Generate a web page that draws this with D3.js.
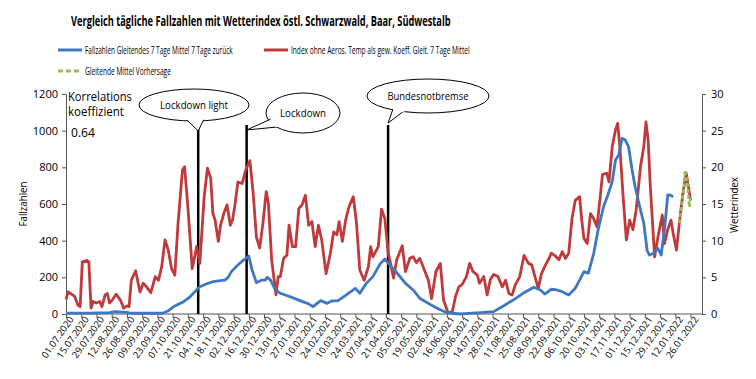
<!DOCTYPE html>
<html><head>
<meta charset="utf-8">
<title>Fallzahlen vs Wetterindex</title>
<script src="https://d3js.org/d3.v7.min.js"></script>
<style>
  body { margin: 0; background: #fff; }
  svg text { font-family: "Open Sans", "Noto Sans", sans-serif; fill: #000; }
</style>
</head>
<body>
<svg id="chart" width="756" height="379"></svg>

<script>
// day index = days since 01.07.2020 (Excel category axis, one category per day)

// Fallzahlen, 7-Tage Mittel (left axis)
const blueDay = [0, 20, 40, 45, 56, 60, 89, 94, 100, 108, 114, 120, 123, 129, 135, 142, 146, 149, 152, 157, 162, 168, 171, 175, 180, 183, 185, 188, 192, 197, 206, 215, 223, 227, 234, 240, 244, 250, 256, 266, 270, 276, 282, 289, 293, 297, 304, 312, 319, 325, 333, 341, 350, 362, 381, 393, 402, 411, 420, 430, 436, 440, 446, 451, 456, 462, 468, 472, 476, 480, 485, 489, 494, 498, 502, 505, 508, 511, 514, 517, 520, 523, 528, 531, 534, 536, 540, 544, 547, 550, 553, 555, 558];
const blueVal = [5, 5, 7, 13, 9, 4, 4, 18, 44, 67, 94, 131, 149, 164, 176, 182, 185, 200, 231, 262, 289, 316, 240, 171, 185, 185, 200, 185, 135, 113, 94, 73, 55, 40, 73, 58, 71, 73, 98, 140, 113, 167, 204, 276, 300, 272, 225, 167, 131, 86, 58, 31, 7, 0, 7, 13, 44, 76, 113, 146, 131, 109, 135, 131, 122, 104, 140, 185, 231, 222, 331, 458, 585, 649, 722, 840, 867, 958, 949, 913, 795, 694, 567, 495, 349, 322, 331, 358, 322, 458, 649, 649, 640];

// Wetterindex (right axis)
const redDay = [0, 2, 5, 8, 11, 13, 15, 19, 21, 23, 25, 28, 31, 33, 36, 38, 40, 43, 46, 50, 53, 56, 58, 60, 64, 68, 71, 74, 78, 82, 85, 88, 91, 94, 97, 100, 103, 107, 109, 112, 116, 119, 120, 123, 127, 130, 133, 135, 137, 140, 142, 145, 148, 151, 153, 155, 158, 162, 165, 169, 172, 175, 178, 181, 184, 186, 189, 193, 195, 197, 200, 203, 205, 208, 211, 214, 217, 220, 223, 226, 229, 232, 235, 239, 243, 246, 249, 251, 254, 257, 260, 264, 267, 270, 274, 278, 280, 282, 287, 290, 293, 296, 301, 304, 309, 312, 316, 319, 322, 325, 328, 333, 336, 340, 344, 347, 351, 355, 358, 361, 364, 368, 371, 374, 378, 380, 384, 387, 390, 393, 397, 401, 404, 407, 410, 413, 417, 421, 425, 428, 431, 434, 437, 440, 444, 446, 449, 453, 456, 459, 462, 465, 468, 472, 474, 476, 479, 482, 485, 488, 491, 493, 497, 499, 502, 505, 507, 509, 512, 515, 518, 521, 524, 528, 531, 533, 535, 537, 540, 541, 544, 548, 550, 553, 556, 558, 561, 564, 567, 570, 572, 574];
const redVal = [2.0, 3.0, 2.7, 2.4, 1.2, 1.0, 7.1, 7.3, 7.1, 0.8, 1.7, 1.5, 1.7, 1.0, 2.6, 2.8, 1.5, 2.0, 2.7, 1.9, 0.8, 1.1, 1.0, 4.6, 5.9, 3.0, 4.2, 3.7, 2.9, 5.1, 4.6, 6.5, 10.1, 8.7, 6.2, 5.3, 12.4, 19.6, 20.1, 14.6, 6.2, 8.3, 9.2, 6.9, 16.0, 19.9, 18.5, 13.7, 12.8, 9.9, 12.1, 13.7, 14.9, 12.1, 12.8, 14.6, 18.0, 17.8, 19.6, 20.9, 16.5, 10.5, 9.0, 12.4, 16.7, 15.1, 7.4, 2.6, 5.1, 5.1, 7.6, 8.0, 12.1, 9.2, 9.2, 14.4, 14.9, 16.2, 12.1, 12.6, 9.2, 12.1, 10.1, 5.5, 8.3, 11.2, 10.8, 12.6, 9.9, 12.8, 14.6, 16.0, 12.4, 6.0, 4.6, 6.5, 9.2, 7.8, 9.2, 14.3, 13.0, 8.5, 4.9, 7.4, 9.3, 5.8, 7.6, 7.8, 7.0, 7.6, 6.5, 4.6, 2.1, 5.8, 6.9, 1.9, 0.2, 0.3, 2.4, 3.7, 4.0, 5.1, 6.9, 5.8, 5.3, 4.2, 5.1, 2.6, 4.7, 5.4, 5.1, 3.7, 4.6, 2.8, 2.6, 4.0, 5.1, 8.0, 6.9, 6.7, 5.1, 3.5, 5.5, 6.5, 7.6, 8.3, 8.0, 7.4, 8.5, 7.6, 8.3, 13.0, 15.5, 16.0, 12.8, 10.3, 9.6, 13.7, 13.0, 11.9, 16.0, 19.0, 19.2, 18.0, 22.8, 25.1, 26.0, 22.8, 16.0, 10.1, 12.8, 11.5, 14.2, 20.1, 22.8, 26.2, 23.7, 17.4, 10.1, 7.8, 10.5, 13.5, 9.6, 11.5, 12.8, 11.0, 8.7, 12.8, 16.5, 19.2, 17.4, 15.5];

// Vorhersage (right axis)
const greenDay = [564, 566, 568, 569, 571, 573, 574];
const greenVal = [12.4, 15.1, 17.4, 19.6, 18.0, 14.6, 16.0];

const tickLabels = ["01.07.2020","15.07.2020","29.07.2020","12.08.2020","26.08.2020","09.09.2020","23.09.2020","07.10.2020","21.10.2020","04.11.2020","18.11.2020","02.12.2020","16.12.2020","30.12.2020","13.01.2021","27.01.2021","10.02.2021","24.02.2021","10.03.2021","24.03.2021","07.04.2021","21.04.2021","05.05.2021","19.05.2021","02.06.2021","16.06.2021","30.06.2021","14.07.2021","28.07.2021","11.08.2021","25.08.2021","08.09.2021","22.09.2021","06.10.2021","20.10.2021","03.11.2021","17.11.2021","01.12.2021","15.12.2021","29.12.2021","12.01.2022","26.01.2022"];
const leftTicks = [0, 200, 400, 600, 800, 1000, 1200];
const rightTicks = [0, 5, 10, 15, 20, 25, 30];

// events: label, day index
const eventNames = ["Lockdown light", "Lockdown", "Bundesnotbremse"];
const eventDays = [121.5, 166, 296];

const svg = d3.select("#chart");

const x = d3.scaleLinear().domain([0, 584.5]).range([66, 702]);
const yL = d3.scaleLinear().domain([0, 1200]).range([314, 94]);
const yR = d3.scaleLinear().domain([0, 30]).range([314, 94]);

const BLUE = "#3f77c2", RED = "#c0393b", GREEN = "#9bbb59";

// the original uses a narrow font, so squeeze each text horizontally to its width
function label(px, py, str, size, width, opts = {}) {
  let t = svg.append("text")
     .attr("text-anchor", opts.anchor || "start")
     .style("font-size", size + "px")
     .style("font-weight", opts.bold ? "bold" : null)
     .text(str);
  let k = width / t.node().getComputedTextLength();
  t.attr("transform", `translate(${px},${py})` + (opts.rotate ? ` rotate(${opts.rotate})` : "") + ` scale(${k},1)`);
  return t;
}

// title
label(71, 26, "Vergleich tägliche Fallzahlen mit  Wetterindex östl. Schwarzwald, Baar, Südwestalb", 15, 380, {bold: true});

// legend
const legend = [
  {x: 58, y: 50, color: BLUE, dash: null, text: "Fallzahlen Gleitendes 7 Tage Mittel 7 Tage zurück", w: 148},
  {x: 264, y: 50, color: RED, dash: null, text: "Index ohne Aeros. Temp als gew. Koeff. Gleit. 7 Tage Mittel", w: 179},
  {x: 58, y: 71, color: GREEN, dash: "5,3", text: "Gleitende Mittel Vorhersage", w: 86}
];
legend.forEach(l => {
  svg.append("line")
     .attr("x1", l.x).attr("x2", l.x + 24).attr("y1", l.y).attr("y2", l.y)
     .attr("stroke", l.color).attr("stroke-width", 3)
     .attr("stroke-dasharray", l.dash);
  label(l.x + 27, l.y + 4, l.text, 11, l.w);
});

// axes
const axisL = svg.append("g").attr("transform", "translate(66,0)")
  .call(d3.axisLeft(yL).tickValues(leftTicks).tickSize(4).tickPadding(4).tickFormat(d3.format("d")));
const axisR = svg.append("g").attr("transform", "translate(702,0)")
  .call(d3.axisRight(yR).tickValues(rightTicks).tickSize(4).tickPadding(5));
const axisB = svg.append("g").attr("transform", "translate(0,314)")
  .call(d3.axisBottom(x).tickValues(d3.range(0, 575, 14)).tickSize(4)
          .tickFormat((d, i) => tickLabels[i]));

[axisL, axisR, axisB].forEach(a => {
  a.select(".domain").attr("stroke", "#555").attr("stroke-width", 1);
  a.selectAll(".tick line").attr("stroke", "#555");
  a.selectAll("text").style("font-size", "11px").style("font-family", "Open Sans, sans-serif").attr("fill", "#000");
});
axisB.selectAll("text")
  .style("font-size", "9.5px")
  .attr("text-anchor", "end")
  .attr("transform", "translate(3,2) rotate(-55)")
  .attr("x", 0).attr("y", 0).attr("dy", "0.6em");
axisB.select(".domain").attr("d", "M66,0H702");

label(27, 204, "Fallzahlen", 11, 45, {anchor: "middle", rotate: -90});
label(738, 205, "Wetterindex", 11, 56, {anchor: "middle", rotate: -90});

// event lines
eventDays.forEach((d, i) => {
  svg.append("line")
     .attr("x1", x(d)).attr("x2", x(d))
     .attr("y1", i === 0 ? 129 : 125).attr("y2", 314)
     .attr("stroke", "#000").attr("stroke-width", 2.5);
});

// series
const lineL = d3.line().x(d => x(d[0])).y(d => yL(d[1]));
const lineR = d3.line().x(d => x(d[0])).y(d => yR(d[1]));

svg.append("path")
   .datum(d3.zip(redDay, redVal))
   .attr("fill", "none").attr("stroke", RED).attr("stroke-width", 2.8)
   .attr("stroke-linejoin", "round")
   .attr("d", lineR);
svg.append("path")
   .datum(d3.zip(blueDay, blueVal))
   .attr("fill", "none").attr("stroke", BLUE).attr("stroke-width", 2.8)
   .attr("stroke-linejoin", "round")
   .attr("d", lineL);
svg.append("path")
   .datum(d3.zip(greenDay, greenVal))
   .attr("fill", "none").attr("stroke", GREEN).attr("stroke-width", 2.8)
   .attr("stroke-dasharray", "4,2")
   .attr("d", lineR);

// correlation text
label(68, 101, "Korrelations", 12, 64);
label(68, 116, "koeffizient", 12, 56);
label(71, 137, "0.64", 13.5, 24);

// speech bubbles: ellipse + tail pointing at the event line
const bubbles = [
  {cx: 194, cy: 105, rx: 55, ry: 16, w: 68, tail: [[186, 119], [x(eventDays[0]), 131], [204, 119]]},
  {cx: 303, cy: 113, rx: 37, ry: 20, w: 46, tail: [[271, 119], [x(eventDays[1]), 130], [277, 127]]},
  {cx: 428, cy: 96, rx: 61, ry: 17, w: 81, tail: [[393, 109], [x(eventDays[2]), 123], [404, 111]]}
];
bubbles.forEach((b, i) => {
  svg.append("ellipse")
     .attr("cx", b.cx).attr("cy", b.cy).attr("rx", b.rx).attr("ry", b.ry)
     .attr("fill", "#fff").attr("stroke", "#000").attr("stroke-width", 1);
  svg.append("path")
     .attr("d", "M" + b.tail.join("L"))
     .attr("fill", "#fff").attr("stroke", "#000").attr("stroke-width", 1);
  // cover ellipse border between the tail base points
  svg.append("path")
     .attr("d", "M" + b.tail[0] + "L" + b.tail[2])
     .attr("stroke", "#fff").attr("stroke-width", 2);
  label(b.cx, b.cy + 4, eventNames[i], 11, b.w, {anchor: "middle"});
});
</script>
</body>
</html>
